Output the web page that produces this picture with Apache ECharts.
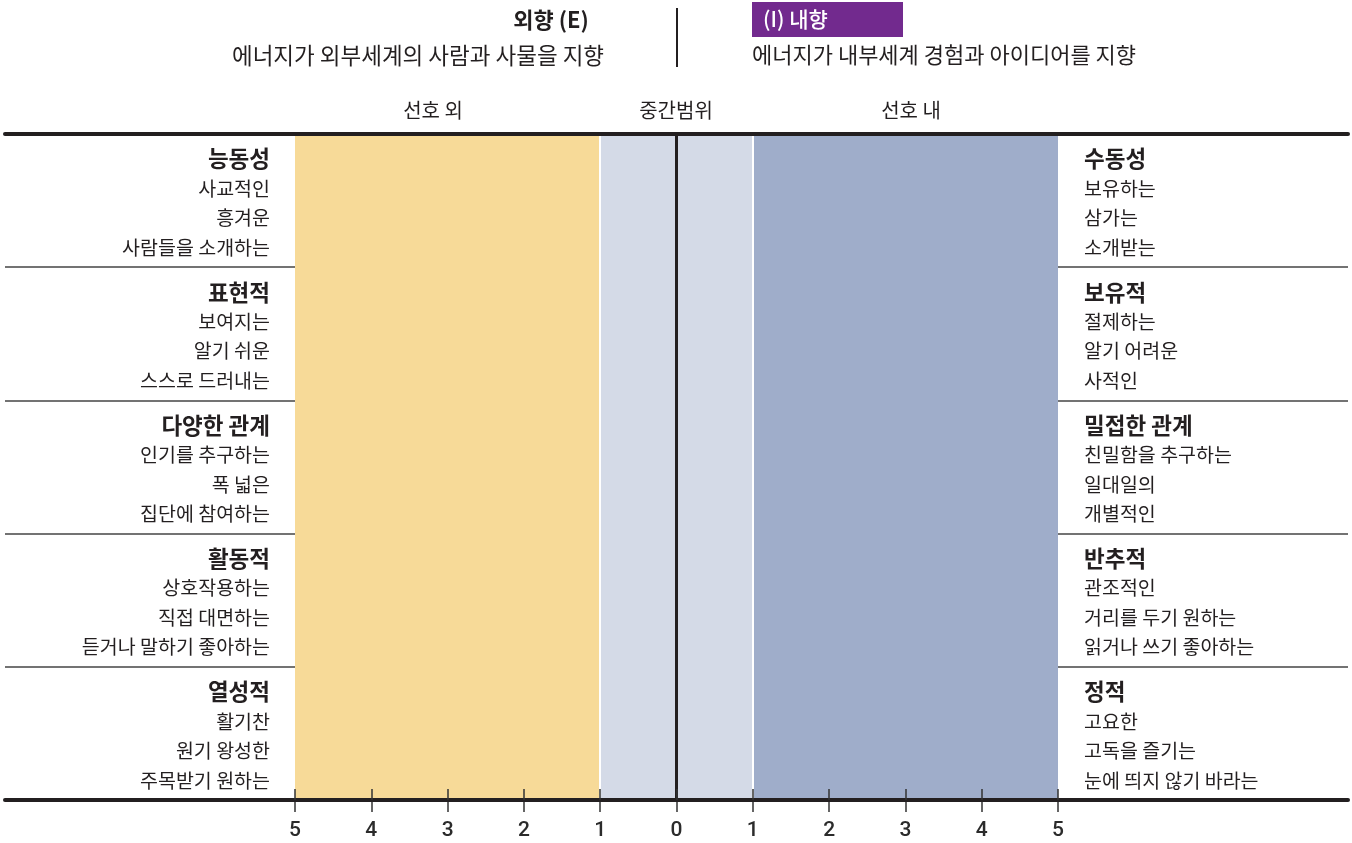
<!DOCTYPE html>
<html><head><meta charset="utf-8">
<script src="https://cdn.jsdelivr.net/npm/echarts@6/dist/echarts.min.js"></script>
<style>html,body{margin:0;padding:0;background:#fff}#c{width:1352px;height:843px}</style>
</head><body><div id="c"></div>
<script>
const rowIds = ['0','1','2','3','4'];
const leftTitles = ['능동성','표현적','다양한 관계','활동적','열성적'];
const leftLines = [
  ['사교적인','흥겨운','사람들을 소개하는'],
  ['보여지는','알기 쉬운','스스로 드러내는'],
  ['인기를 추구하는','폭 넓은','집단에 참여하는'],
  ['상호작용하는','직접 대면하는','듣거나 말하기 좋아하는'],
  ['활기찬','원기 왕성한','주목받기 원하는']
];
const rightTitles = ['수동성','보유적','밀접한 관계','반추적','정적'];
const rightLines = [
  ['보유하는','삼가는','소개받는'],
  ['절제하는','알기 어려운','사적인'],
  ['친밀함을 추구하는','일대일의','개별적인'],
  ['관조적인','거리를 두기 원하는','읽거나 쓰기 좋아하는'],
  ['고요한','고독을 즐기는','눈에 띄지 않기 바라는']
];
const bandEdges = [-5, -1, 1, 5];
const bandColors = ['#F7DA98', '#D4DAE7', '#9FADCA'];
const gapValues = [-1, 1];
const centerValue = 0;
const scaleMin = -5, scaleMax = 5, scaleStep = 1;
const zoneLabels = ['선호 외', '중간범위', '선호 내'];
const headE = '외향 (E)', subE = '에너지가 외부세계의 사람과 사물을 지향';
const headI = '(I) 내향', subI = '에너지가 내부세계 경험과 아이디어를 지향';

const FONT = '"Noto Sans CJK KR", "Noto Sans", sans-serif';
const TXT = '#231F20';

function labelFmt(titles, lines) {
  return function (v) {
    const i = +v;
    return '{t|' + titles[i] + '}\n' + lines[i].map(s => '{l|' + s + '}').join('\n');
  };
}
const rich = {
  t: { fontFamily: FONT, fontWeight: 'bold', fontSize: 22.5, lineHeight: 29.5, color: TXT },
  l: { fontFamily: FONT, fontSize: 19.5, lineHeight: 29.5, color: TXT }
};

const markAreaData = bandColors.map((c, i) => [
  { xAxis: bandEdges[i], itemStyle: { color: c } },
  { xAxis: bandEdges[i + 1] }
]);
const markLineData = gapValues.map(v => ({ xAxis: v, lineStyle: { color: '#fff', width: 2, type: 'solid' } }))
  .concat([{ xAxis: centerValue, lineStyle: { color: TXT, width: 3, type: 'solid' } }]);

const chart = echarts.init(document.getElementById('c'), null, { renderer: 'canvas' });
chart.setOption({
  animation: false,
  backgroundColor: '#fff',
  grid: [
    { left: 295, right: 294, top: 134, bottom: 43 },
    { left: 5, right: 4, top: 134, bottom: 43 }
  ],
  xAxis: [
    { gridIndex: 0, type: 'value', min: scaleMin, max: scaleMax, interval: scaleStep, position: 'bottom',
      axisLine: { show: false }, splitLine: { show: false },
      axisTick: { show: true, length: 12, lineStyle: { color: '#333', width: 1.5 } },
      axisLabel: { margin: 20, fontFamily: 'Roboto, sans-serif', fontWeight: 500, fontSize: 21, color: '#2b2b2b',
        formatter: v => String(Math.abs(v)) } },
    { gridIndex: 0, type: 'value', min: scaleMin, max: scaleMax, interval: scaleStep, position: 'bottom', z: 10,
      axisLine: { show: false }, splitLine: { show: false }, axisLabel: { show: false },
      axisTick: { show: true, inside: true, length: 11, lineStyle: { color: '#333', width: 1.5 } } },
    { gridIndex: 1, type: 'value', min: 0, max: 1, position: 'bottom', z: 10,
      axisLine: { show: true, lineStyle: { color: TXT, width: 4 } }, axisTick: { show: false },
      axisLabel: { show: false }, splitLine: { show: false } },
    { gridIndex: 1, type: 'value', min: 0, max: 1, position: 'top', z: 10,
      axisLine: { show: true, lineStyle: { color: TXT, width: 4 } }, axisTick: { show: false },
      axisLabel: { show: false }, splitLine: { show: false } }
  ],
  yAxis: [
    { gridIndex: 0, type: 'category', data: rowIds, inverse: true, position: 'left',
      axisLine: { show: false }, axisTick: { show: false }, splitLine: { show: false },
      axisLabel: { margin: 25, align: 'right', formatter: labelFmt(leftTitles, leftLines), rich: rich, padding: [5, 0, 0, 0] } },
    { gridIndex: 0, type: 'category', data: rowIds, inverse: true, position: 'right',
      axisLine: { show: false }, axisTick: { show: false }, splitLine: { show: false },
      axisLabel: { margin: 26, align: 'left', formatter: labelFmt(rightTitles, rightLines), rich: rich, padding: [5, 0, 0, 0] } },
    { gridIndex: 1, type: 'category', data: rowIds, inverse: true,
      axisLine: { show: false }, axisTick: { show: false }, axisLabel: { show: false },
      splitLine: { show: true, lineStyle: { color: '#444', width: 1.5 } } }
  ],
  graphic: [
    { type: 'text', x: 551, y: 20, style: { text: headE, font: 'bold 22px ' + FONT, fill: TXT, textAlign: 'center', textVerticalAlign: 'middle' } },
    { type: 'text', x: 418, y: 55, style: { text: subE, font: '22.5px ' + FONT, fill: TXT, textAlign: 'center', textVerticalAlign: 'middle' } },
    { type: 'line', shape: { x1: 677, y1: 8, x2: 677, y2: 67 }, style: { stroke: TXT, lineWidth: 2 } },
    { type: 'rect', shape: { x: 752, y: 2, width: 151, height: 35 }, style: { fill: '#722A8E' } },
    { type: 'text', x: 763, y: 19.5, style: { text: headI, font: '500 21px ' + FONT, fill: '#fff', textVerticalAlign: 'middle' } },
    { type: 'text', x: 752, y: 55, style: { text: subI, font: '22px ' + FONT, fill: TXT, textVerticalAlign: 'middle' } },
    { type: 'text', x: 433, y: 110, style: { text: zoneLabels[0], font: '20px ' + FONT, fill: TXT, textAlign: 'center', textVerticalAlign: 'middle' } },
    { type: 'text', x: 676, y: 110, style: { text: zoneLabels[1], font: '20px ' + FONT, fill: TXT, textAlign: 'center', textVerticalAlign: 'middle' } },
    { type: 'text', x: 911, y: 110, style: { text: zoneLabels[2], font: '20px ' + FONT, fill: TXT, textAlign: 'center', textVerticalAlign: 'middle' } }
  ],
  series: [
    { type: 'scatter', xAxisIndex: 0, yAxisIndex: 0, data: [[centerValue, rowIds[0]]], symbolSize: 0, silent: true,
      markArea: { silent: true, data: markAreaData },
      markLine: { silent: true, symbol: 'none', label: { show: false }, data: markLineData } }
  ]
});
</script></body></html>
